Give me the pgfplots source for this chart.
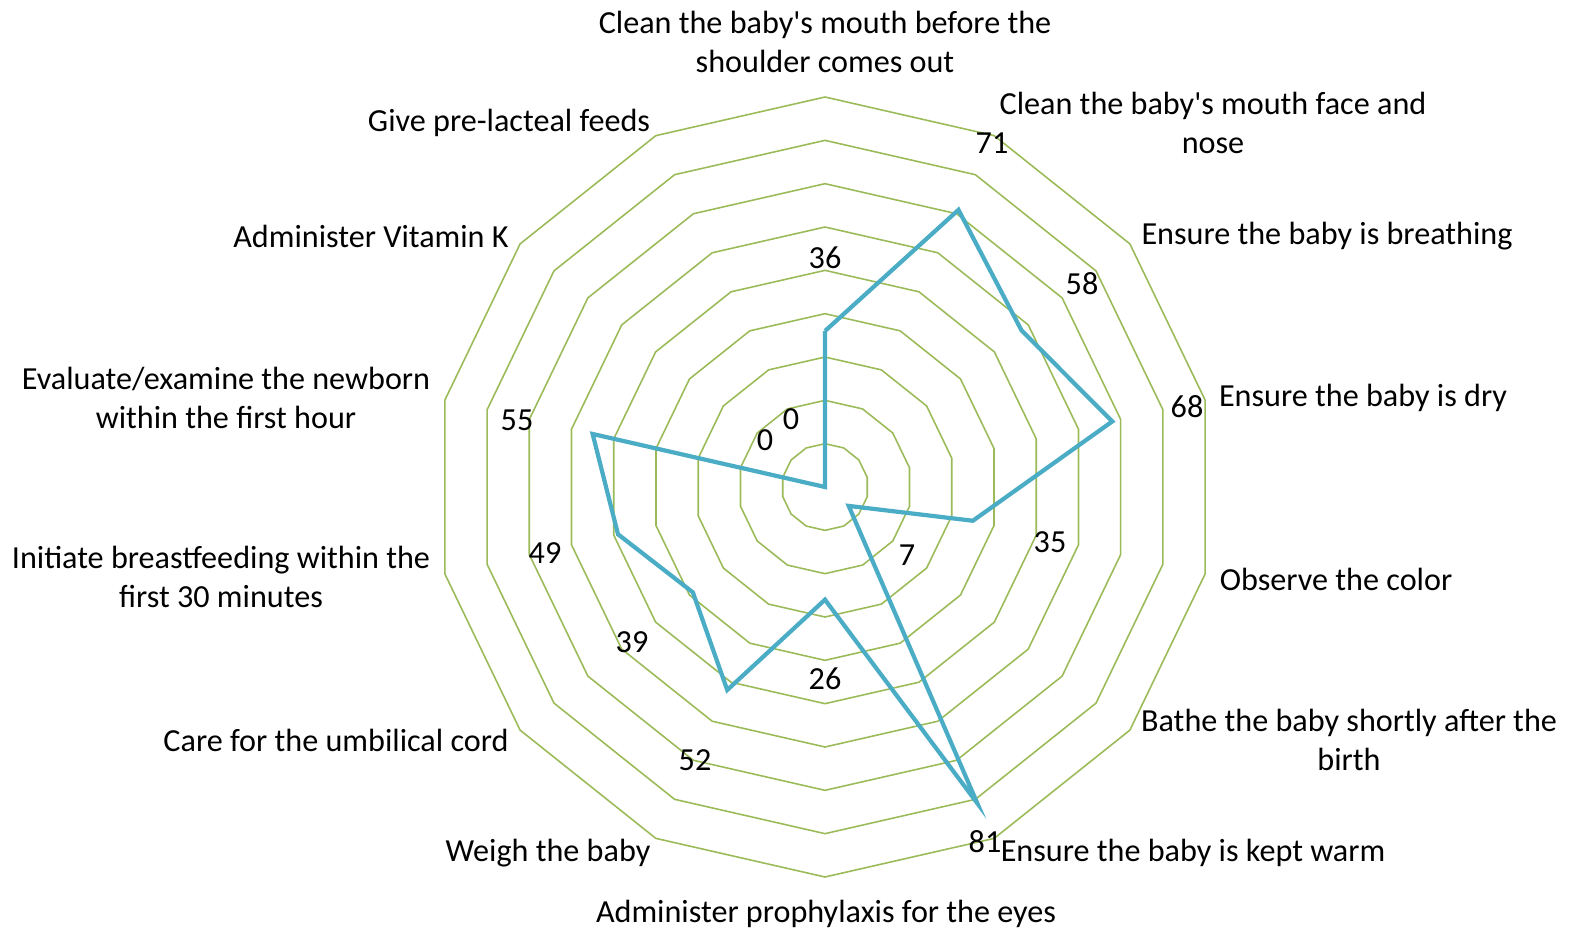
\documentclass[border=0pt]{standalone}
\usepackage{fontspec}
\setmainfont{Carlito}[Ligatures=TeXOff]
\usepackage{pgfplots}
\pgfplotsset{compat=1.18}
\usepgfplotslibrary{polar}
\definecolor{gridgreen}{HTML}{9BBB59}
\definecolor{seriesblue}{HTML}{4BACC6}
\begin{document}
\fontsize{9.15pt}{11.1pt}\selectfont
\begin{tikzpicture}
\path[use as bounding box] (0,0) rectangle (156.9mm,-92.9mm);
\begin{polaraxis}[
  at={(82.5mm,-48.7mm)}, anchor=origin,
  scale only axis, width=78mm, height=78mm,
  ymin=0, ymax=90,
  hide axis, clip=false,
]
% grid rings (10 ... 90)
\pgfplotsinvokeforeach{10,20,30,40,50,60,70,80,90}{
  \addplot[gridgreen, line width=0.45pt] coordinates {
    (90,#1)(64.2857,#1)(38.5714,#1)(12.8571,#1)(-12.8571,#1)(-38.5714,#1)
    (-64.2857,#1)(-90,#1)(-115.714,#1)(-141.429,#1)(-167.143,#1)
    (-192.857,#1)(-218.571,#1)(-244.286,#1)(-270,#1)};
}
\addplot[seriesblue, line width=1.2pt, line join=miter] coordinates {
  (90,36)(64.2857,71)(38.5714,58)(12.8571,68)(-12.8571,35)(-38.5714,7)
  (-64.2857,81)(-90,26)(-115.714,52)(-141.429,39)(-167.143,49)
  (-192.857,55)(-218.571,0)(-244.286,0)(-270,36)};
\end{polaraxis}
\begin{scope}[x=0.1mm, y=-0.1mm, yshift=-0.2mm, every node/.style={inner sep=0pt, align=center}]
% category labels
\node at (825,40) {Clean the baby's mouth before the\\shoulder comes out};
\node at (1213,121) {Clean the baby's mouth face and\\nose};
\node at (1327,234) {Ensure the baby is breathing};
\node at (1363,396) {Ensure the baby is dry};
\node at (1336,577) {Observe the color};
\node at (1349,738) {Bathe the baby shortly after the\\birth};
\node at (1193,851) {Ensure the baby is kept warm};
\node at (826,912) {Administer prophylaxis for the eyes};
\node at (548,851) {Weigh the baby};
\node at (336,738) {Care for the umbilical cord};
\node at (221,575) {Initiate breastfeeding within the\\first 30 minutes};
\node at (226,396) {Evaluate/examine the newborn\\within the first hour};
\node at (371,234) {Administer Vitamin K};
\node at (509,121) {Give pre-lacteal feeds};
% data labels
\node at (825,256) {36};
\node at (992,141) {71};
\node at (1082,282) {58};
\node at (1187,405) {68};
\node at (1050,540) {35};
\node at (907,553) {7};
\node at (985,840) {81};
\node at (825,677) {26};
\node at (695,758) {52};
\node at (632,640) {39};
\node at (545,551) {49};
\node at (517,418) {55};
\node at (765,438) {0};
\node at (791,417) {0};
\end{scope}
\end{tikzpicture}
\end{document}
